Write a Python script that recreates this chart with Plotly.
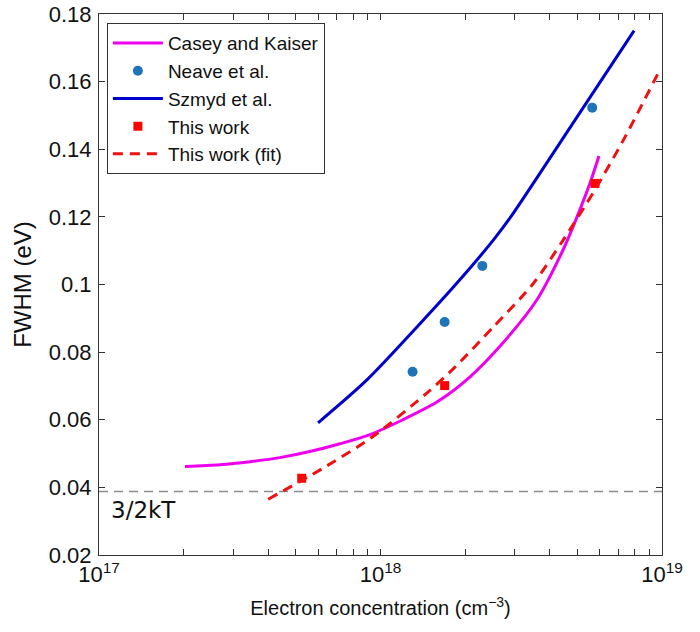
import plotly.graph_objects as go

# Casey and Kaiser (theory curve)
ck_x = [2.02e17, 2.69e17, 3.44e17, 4.39e17, 5.61e17, 7.18e17, 9.18e17, 1.20e18,
        1.59e18, 2.08e18, 2.72e18, 3.59e18, 4.45e18, 4.99e18, 5.55e18, 5.97e18]
ck_y = [0.0462, 0.0467, 0.0476, 0.0488, 0.0506, 0.0529, 0.0556, 0.0600,
        0.0653, 0.0727, 0.0827, 0.0954, 0.1102, 0.1200, 0.1300, 0.1380]

# Neave et al. (data points)
neave_x = [1.30e18, 1.69e18, 2.30e18, 5.65e18]
neave_y = [0.0742, 0.0889, 0.1055, 0.1523]

# Szmyd et al. (curve)
sz_x = [6.0e17, 8.93e17, 1.35e18, 1.91e18, 2.52e18, 2.88e18, 4.79e18, 7.96e18]
sz_y = [0.0591, 0.0717, 0.0875, 0.1013, 0.1132, 0.1196, 0.1473, 0.1751]

# This work (data points)
tw_x = [5.25e17, 1.69e18, 5.78e18]
tw_y = [0.0427, 0.0701, 0.1299]

# This work (fit)
fit_x = [3.99e17, 6.2e17, 9.42e17, 1.46e18, 1.82e18, 2.52e18, 3.49e18, 4.46e18,
         5.78e18, 7.29e18, 9.9e18]
fit_y = [0.0365, 0.0455, 0.0551, 0.0679, 0.0752, 0.0875, 0.1003, 0.1132,
         0.1280, 0.1427, 0.1640]

# 3/2 kT reference level
kt_level = 0.0388
kt_x = [1e17, 1e19]

# Tick labels
y_ticks = [0.02, 0.04, 0.06, 0.08, 0.10, 0.12, 0.14, 0.16, 0.18]
y_ticktext = ["0.02", "0.04", "0.06", "0.08", "0.1", "0.12", "0.14", "0.16", "0.18"]
x_major_text = ["10<sup>17</sup>", "10<sup>18</sup>", "10<sup>19</sup>"]

x_tickvals = []
x_ticktext = []
for dec in (17, 18):
    for m in range(1, 10):
        x_tickvals.append(m * 10 ** dec)
        x_ticktext.append(x_major_text[dec - 17] if m == 1 else "")
x_tickvals.append(1e19)
x_ticktext.append(x_major_text[2])

FONT = "Liberation Sans, Arial, Helvetica, sans-serif"

fig = go.Figure()
fig.add_trace(go.Scatter(x=kt_x, y=[kt_level, kt_level], mode="lines",
                         line=dict(color="#8c8c8c", width=1.5, dash="9px,6px"),
                         showlegend=False, hoverinfo="skip"))
fig.add_trace(go.Scatter(x=ck_x, y=ck_y, mode="lines", name="Casey and Kaiser",
                         line=dict(color="#ee00ee", width=3, shape="spline", smoothing=0.8)))
fig.add_trace(go.Scatter(x=neave_x, y=neave_y, mode="markers", name="Neave et al.",
                         marker=dict(color="#1f74b8", size=10, symbol="circle")))
fig.add_trace(go.Scatter(x=sz_x, y=sz_y, mode="lines", name="Szmyd et al.",
                         line=dict(color="#0000cc", width=3, shape="spline", smoothing=0.8)))
fig.add_trace(go.Scatter(x=tw_x, y=tw_y, mode="markers", name="This work",
                         marker=dict(color="#ff0000", size=9, symbol="square")))
fig.add_trace(go.Scatter(x=fit_x, y=fit_y, mode="lines", name="This work (fit)",
                         line=dict(color="#ee1111", width=3, dash="10px,7px",
                                   shape="spline", smoothing=0.8)))

fig.add_annotation(text="3/2kT", xref="paper", yref="y", x=0.018, y=0.0333,
                   xanchor="left", yanchor="middle", showarrow=False,
                   font=dict(family="DejaVu Sans, sans-serif", size=23, color="#111"))

fig.update_layout(
    width=700, height=632,
    margin=dict(l=99, r=38, t=14, b=77),
    paper_bgcolor="white", plot_bgcolor="white",
    font=dict(family=FONT, size=20, color="#111"),
    showlegend=True,
    legend=dict(x=0.014, y=0.983, xanchor="left", yanchor="top",
                bordercolor="#333", borderwidth=1, bgcolor="white",
                font=dict(family=FONT, size=19, color="#111"),
                itemwidth=50, tracegroupgap=0),
    xaxis=dict(type="log", range=[17, 19], tickvals=x_tickvals, ticktext=x_ticktext,
               ticks="inside", ticklen=6, tickcolor="#333", mirror="allticks",
               showline=True, linecolor="#333", linewidth=1, showgrid=False,
               zeroline=False, automargin=False, ticklabeloverflow="allow",
               tickfont=dict(family=FONT, size=22),
               title=dict(text="Electron concentration (cm<sup>−3</sup>)",
                          font=dict(family=FONT, size=20), standoff=14)),
    yaxis=dict(range=[0.02, 0.18], tickvals=y_ticks, ticktext=y_ticktext,
               ticks="inside", ticklen=6, tickcolor="#333", mirror="allticks",
               showline=True, linecolor="#333", linewidth=1, showgrid=False,
               zeroline=False, automargin=False, ticklabeloverflow="allow",
               tickfont=dict(family=FONT, size=22), ticklabelstandoff=2,
               title=dict(text="FWHM (eV)", font=dict(family=FONT, size=24), standoff=10)),
)

# Remove the default 8px page margin so the figure fills the 700x632 window exactly.
fig.write_html("out.html", config={"displayModeBar": False},
               post_script="document.body.style.margin='0px';document.body.style.overflow='hidden';")
